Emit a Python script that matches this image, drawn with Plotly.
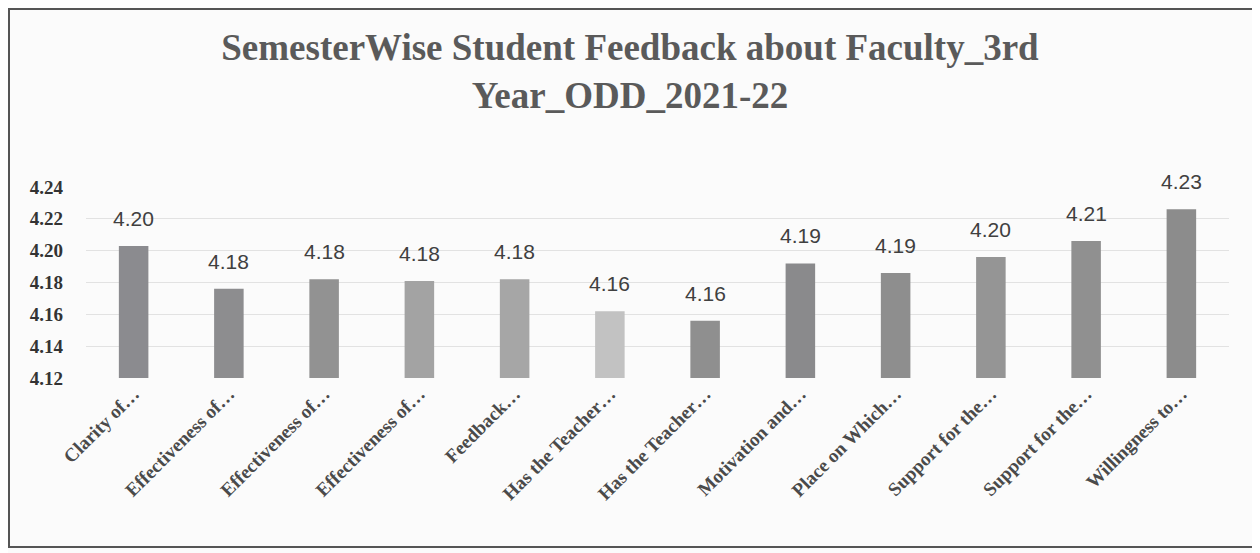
import plotly.graph_objects as go

categories = ["Clarity of…", "Effectiveness of…", "Effectiveness of…", "Effectiveness of…",
              "Feedback…", "Has the Teacher…", "Has the Teacher…", "Motivation and…",
              "Place on Which…", "Support for the…", "Support for the…", "Willingness to…"]
values = [4.203, 4.176, 4.182, 4.181, 4.182, 4.162, 4.156, 4.192, 4.186, 4.196, 4.206, 4.226]
bar_colors = ["#8b8b8f", "#8d8d8f", "#929292", "#a3a3a3", "#a6a6a6", "#c2c2c2",
              "#8f8f8f", "#8a8a8c", "#8e8e8e", "#959595", "#909090", "#8c8c8c"]
y_ticks = [4.12, 4.14, 4.16, 4.18, 4.20, 4.22, 4.24]
title_text = "SemesterWise Student Feedback about Faculty_3rd<br>Year_ODD_2021-22"

x_idx = list(range(len(categories)))

# page body has an 8px margin, so the figure is sized to the visible area
W, H = 1252, 545
L, R, T, B = 78, 31, 179, 175
PW, PH = W - L - R, H - T - B

fig = go.Figure()
fig.add_trace(go.Bar(
    x=x_idx, y=[v - 4.12 for v in values], base=4.12,
    marker=dict(color=bar_colors, line=dict(width=0)),
    width=0.31, hoverinfo="skip",
))

annotations = []
for i, v in zip(x_idx, values):
    annotations.append(dict(
        x=i, y=v, xref="x", yref="y", text=f"{v:.2f}", showarrow=False,
        yanchor="bottom", yshift=14,
        font=dict(family="Liberation Sans, Arial", size=21, color="#404040"),
    ))

fig.update_layout(
    width=W, height=H,
    margin=dict(l=L, r=R, t=T, b=B, autoexpand=False),
    paper_bgcolor="#fbfbfb", plot_bgcolor="#fbfbfb",
    showlegend=False,
    title=dict(text=title_text, x=(630 - 8) / W, xanchor="center", y=1 - 52 / H, yanchor="top",
               font=dict(family="Liberation Serif, Times New Roman", size=37, color="#5a5a5a",
                         weight="bold")),
    annotations=annotations,
    shapes=[dict(type="rect", xref="paper", yref="paper",
                 x0=(1 - L) / PW, x1=(1247 - L) / PW,
                 y0=-(539 - (H - B)) / PH, y1=((H - B) - 1) / PH,
                 line=dict(color="#555555", width=2), fillcolor="rgba(0,0,0,0)", layer="below")],
)
fig.update_xaxes(
    tickmode="array", tickvals=x_idx, ticktext=categories,
    range=[-0.5, len(categories) - 0.5], automargin=False,
    tickangle=-45, showgrid=False, zeroline=False, showline=False, ticks="",
    tickfont=dict(family="Liberation Serif, Times New Roman", size=19, color="#4a4a4a", weight="bold"),
)
fig.update_yaxes(
    range=[4.12, 4.24], tickmode="array", tickvals=y_ticks, automargin=False,
    ticktext=[f"{t:.2f}" for t in y_ticks],
    showgrid=True, gridcolor="#e2e2e2", gridwidth=1, zeroline=False, showline=False, ticks="",
    ticklabelstandoff=22,
    tickfont=dict(family="Liberation Serif, Times New Roman", size=19, color="#333333", weight="bold"),
)

fig.write_html("out.html")
